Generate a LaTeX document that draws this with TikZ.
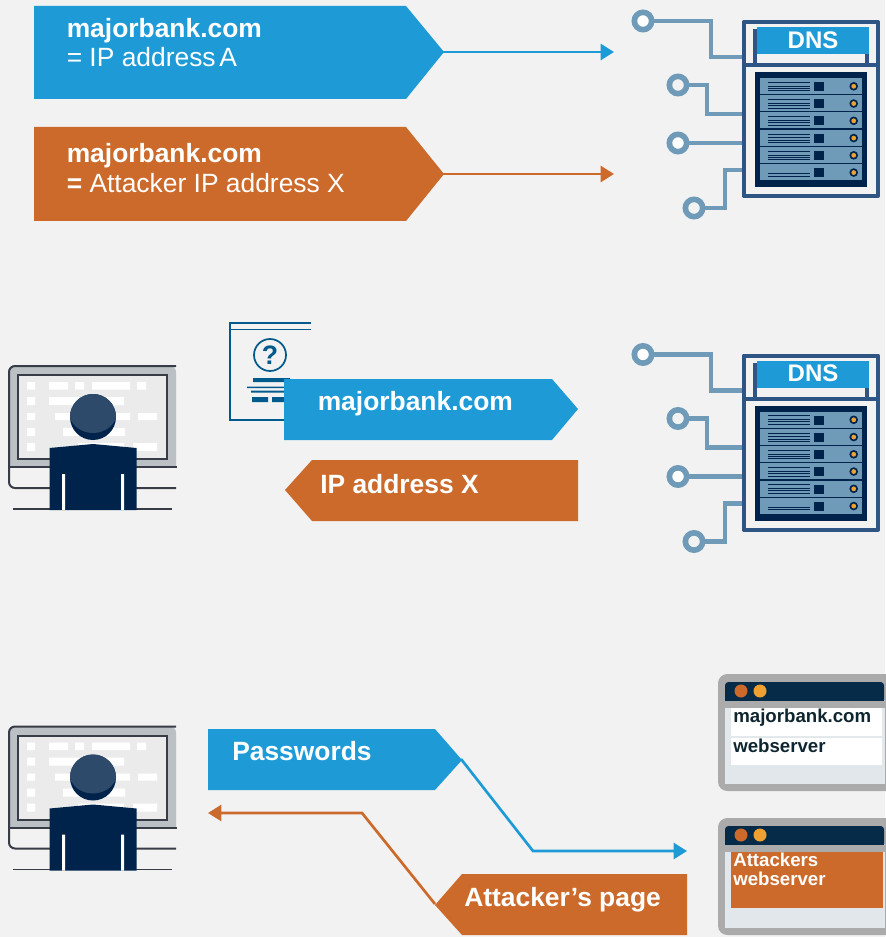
\documentclass[tikz,border=0pt]{standalone}
\usepackage{fontspec}
\setmainfont{Liberation Sans}
\usetikzlibrary{arrows.meta, positioning}
\definecolor{pagebg}{HTML}{F2F2F2}
\definecolor{bankblue}{HTML}{1E9BD7}
\definecolor{bankorange}{HTML}{CC6A2B}
\definecolor{framenavy}{HTML}{2F5585}
\definecolor{racknavy}{HTML}{00234B}
\definecolor{tracesteel}{HTML}{6F9BB8}
\definecolor{ledamber}{HTML}{F0A030}
\definecolor{monitorgrey}{HTML}{BBC0C4}
\definecolor{monitorline}{HTML}{373C46}
\definecolor{docblue}{HTML}{005A8C}
\definecolor{headblue}{HTML}{2D4A6B}
\definecolor{titlenavy}{HTML}{062B48}
\definecolor{pageink}{HTML}{0F2630}
\definecolor{windowgrey}{HTML}{ABABAB}
\definecolor{windowpale}{HTML}{E1E7EA}
\tikzset{
>={Triangle[length=10pt, width=12pt]}, % arrow heads of all the links
bluelink/.style={->, bankblue, line width=2pt},
orangelink/.style={->, bankorange, line width=2pt},
bigtext/.style={anchor=base west, inner sep=0pt, text=white, font=\fontsize{19.8}{24}\selectfont\bfseries},
smalltext/.style={anchor=base west, inner sep=0pt, text=white, font=\fontsize{19.8}{24}\selectfont},
pagetext/.style={anchor=base west, inner sep=0pt, font=\fontsize{14}{16}\selectfont\bfseries},
trace/.style={tracesteel, line width=3.3pt},
traceend/.style={circle, draw=tracesteel, line width=4.2pt, minimum size=13pt, inner sep=0pt},
% the DNS server with its four traces
pics/dnsserver/.style={code={
    \draw[trace] (643,21) -- (711,21) -- (711,57) -- (743,57);
    \draw[trace] (678,85) -- (707,85) -- (707,114) -- (743,114);
    \draw[trace] (678,143) -- (743,143);
    \draw[trace] (694,208) -- (725,208) -- (725,170) -- (743,170);
    \node[traceend, fill=white] (-ta) at (643,21) {};
    \node[traceend, fill=pagebg] (-tb) at (678,85) {};
    \node[traceend, fill=white] (-tc) at (678,143) {};
    \node[traceend, fill=pagebg] (-td) at (694,208) {};
    \draw[framenavy, line width=3pt, line join=round] (743.5,22) rectangle (878,196);
    \draw[framenavy, line width=3pt] (743.5,65) -- (878,65);
    \draw[framenavy, line width=3pt] (755,65) -- (755,31) -- (760,31);
    \draw[framenavy, line width=3pt] (866.5,65) -- (866.5,50);
    \fill[bankblue] (757,27) rectangle (869,54);
    \node[font=\fontsize{18}{20}\selectfont\bfseries, text=white, inner sep=0pt] (-dns) at (813,40) {DNS};
    \fill[racknavy] (755,72) rectangle (867,187);
    \foreach \row in {0,...,5} {
        \begin{scope}[yshift=\row*(-17.25)*0.75pt]
            \fill[tracesteel] (760,78) rectangle (862,94);
            \fill[racknavy] (814,82) rectangle (824,91);
            \fill[racknavy] (853.7,86.3) circle (4.3);
            \fill[ledamber] (853.7,86.3) circle (2.4);
        \end{scope}
    }
    \foreach \row in {0,...,4} {
        \begin{scope}[yshift=\row*(-17.25)*0.75pt]
            \foreach \line in {82.3,86,88.3,90.7}
                \draw[racknavy, line width=0.6pt] (768,\line) -- (810,\line);
        \end{scope}
    }
    \draw[racknavy, line width=0.6pt] (768,173.5) -- (810,173.5) (768,176) -- (810,176);
}},
% the user in front of a monitor
pics/monitoruser/.style={code={
    \fill[monitorgrey, rounded corners=4.5pt] (9,467) -- (9,366) -- (176,366) [sharp corners] -- (176,467) -- cycle;
    \draw[monitorline, line width=1.5pt, rounded corners=4.5pt] (176,366) -- (9,366) -- (9,488) -- (176,488);
    \draw[monitorline, line width=1.5pt] (9,467) -- (177,467);
    \fill[black!8] (17.5,375) rectangle (167,459);
    \draw[monitorline, line width=1.5pt] (17.5,375) rectangle (167,459);
    \draw[monitorline, line width=1.3pt] (13,509) -- (172,509);
    \fill[white] (27,382) rectangle (35,389.5) (49,382) rectangle (68,389.5) (75,382) rectangle (84,389.5) (92,382) rectangle (130,389.5) (137,382) rectangle (146,389.5);
    \fill[white] (27,397) rectangle (35,405) (49,397) rectangle (124,405);
    \fill[white] (27,413) rectangle (35,420) (55,413) rectangle (130,420) (138,413) rectangle (157,420);
    \fill[white] (27,428) rectangle (35,436) (63,428) rectangle (125,436);
    \fill[white] (27,443) rectangle (35,451) (78,443) rectangle (124,451) (133,443) rectangle (157,451);
    \fill[racknavy] (93,417) circle (23);
    \begin{scope}
        \clip (93,417) circle (23);
        \fill[headblue] (93,412) ellipse (24 and 21);
    \end{scope}
    \fill[racknavy] (49.5,510) -- (49.5,448) -- (93,444) -- (136.5,448) -- (136.5,510) -- cycle;
    \fill[white] (62,474) rectangle (65,510) (121,474) rectangle (124,510);
}},
% the browser window, its page is filled in afterwards
pics/webwindow/.style={code={
    \fill[windowgrey, rounded corners=7pt] (718,674) rectangle (900,791);
    \fill[windowpale] (725,700) rectangle (885,784);
    \fill[titlenavy, rounded corners=2.5pt] (725,682) rectangle (884,705);
    \fill[windowgrey] (725,701) rectangle (885,708);
    \fill[bankorange] (741,691) circle (6.5);
    \fill[ledamber] (760,691) circle (6.5);
}},
}

\begin{document}
\begin{tikzpicture}[x=0.75pt, y=-0.75pt]
    \fill[pagebg] (0,0) rectangle (885,937);
    \useasboundingbox (0,0) rectangle (885,937);

    % first row
    \fill[bankblue] (34,6) -- (406,6) -- (444,52) -- (406,99) -- (34,99) -- cycle;
    \fill[bankorange] (34,127) -- (406,127) -- (444,174) -- (406,221) -- (34,221) -- cycle;
    \coordinate (blueTip) at (443,52);
    \coordinate (orangeTip) at (443,174);
    \coordinate (blueEnd) at (614,52);
    \coordinate (orangeEnd) at (614,174);
    \node[bigtext] (bankA) at (66.5,38) {majorbank.com};
    \node[smalltext] (addrA) at (66.5,67) {= IP address\hspace{2.8pt}A};
    \node[bigtext] (bankX) at (66.5,163) {majorbank.com};
    \node[smalltext] (addrX) at (66.5,193) {\textbf{=} Attacker IP address X};
    \pic (dnsTop) at (0,0) {dnsserver};
    \draw (blueTip) edge[bluelink] (blueEnd)
    (orangeTip) edge[orangelink] (orangeEnd);

    % second row
    \pic (userMid) at (0,0) {monitoruser};
    \draw[docblue, line width=1.3pt] (311,323) -- (229.7,323) -- (229.7,420) -- (290,420);
    \draw[docblue, line width=1.3pt] (229.7,329.5) -- (311,329.5);
    \node[circle, draw=docblue, line width=1.3pt, minimum size=24pt, inner sep=0pt, text=docblue, font=\fontsize{20}{22}\selectfont\bfseries] (query) at (270,355) {?};
    \fill[docblue] (253,378) rectangle (290,382) (247,386.5) rectangle (290,388) (251,390.5) rectangle (290,392.5) (252,397) rectangle (268,402) (272,397) rectangle (290,402);
    \fill[bankblue] (284,379) -- (552,379) -- (578,409) -- (552,440) -- (284,440) -- cycle;
    \fill[bankorange] (285,490) -- (312,460) -- (578,460) -- (578,521) -- (312,521) -- cycle;
    \node[bigtext] (bankQ) at (317.5,410.5) {majorbank.com};
    \node[bigtext] (addrR) at (320,493) {IP address X};
    \pic (dnsMid) at (0,333.5) {dnsserver};

    % third row
    \pic (userLow) at (0,360.5) {monitoruser};
    \fill[bankblue] (208,729) -- (435,729) -- (462,760) -- (435,790) -- (208,790) -- cycle;
    \fill[bankorange] (435,905) -- (462,874) -- (687,874) -- (687,935) -- (462,935) -- cycle;
    \coordinate (passTip) at (461,759);
    \coordinate (pageTip) at (435,904);
    \node[bigtext] (pass) at (232,760) {Passwords};
    \node[bigtext] (page) at (464,906) {Attacker’s page};
    \coordinate (bendA) at (533,851);
    \coordinate (passEnd) at (687,851);
    \coordinate (bendB) at (362,813);
    \coordinate (pageEnd) at (208,813);
    \draw[bluelink] (passTip) -- (bendA) -- (passEnd);
    \draw[orangelink] (pageTip) -- (bendB) -- (pageEnd);
    \pic (bankWeb) at (0,0) {webwindow};
    \fill[white] (731,708) rectangle (882,736) (731,738) rectangle (882,765);
    \node[pagetext, text=pageink] (bankName) at (733,722) {majorbank.com};
    \node[pagetext, text=pageink] (bankServer) at (733,752) {webserver};
    \pic (fakeWeb) at (0,144) {webwindow};
    \fill[bankorange] (731,852) rectangle (883,908);
    \node[pagetext, text=white] (fakeName) at (733,866) {Attackers};
    \node[pagetext, text=white] (fakeServer) at (733,885) {webserver};
\end{tikzpicture}
\end{document}
